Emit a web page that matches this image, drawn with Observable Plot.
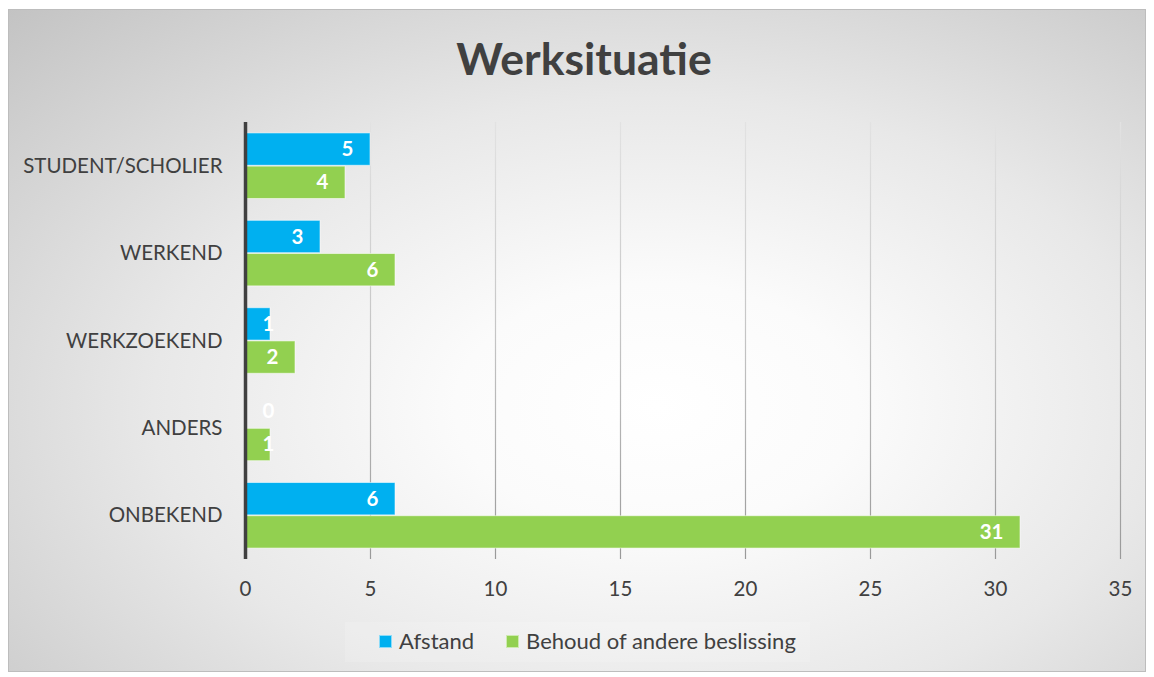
<!DOCTYPE html>
<html>
<head>
<meta charset="utf-8">
<script src="https://cdn.jsdelivr.net/npm/d3@7"></script>
<script src="https://cdn.jsdelivr.net/npm/@observablehq/plot@0.6"></script>
<style>
  html, body { margin: 0; padding: 0; background: #ffffff; }
  body { position: relative; width: 1154px; height: 677px; overflow: hidden; font-family: Lato, "Open Sans", sans-serif; color: #404040; }
  #frame {
    position: absolute; left: 8px; top: 9px; width: 1138px; height: 663px; box-sizing: border-box;
    border: 1px solid #bdbdbd;
    background: radial-gradient(ellipse farthest-corner at 57% 60%, #ffffff 0%, #fbfbfb 22%, #e8e8e8 55%, #c3c3c3 100%);
  }
  #title {
    position: absolute; left: 0; top: 36px; width: 1168px; text-align: center;
    font-size: 44.5px; line-height: 44px; font-weight: bold; color: #404040;
  }
  #chart { position: absolute; left: 0; top: 100px; }
  #legendbox { position: absolute; left: 345px; top: 622px; width: 465px; height: 40px; background: rgba(255,255,255,0.14); }
  #legend { position: absolute; left: 379px; top: 630px; display: flex; align-items: center; font-size: 22px; line-height: 22px; color: #404040; white-space: nowrap; }
  .item { display: flex; align-items: center; }
  .sw { width: 13px; height: 13px; box-sizing: border-box; border: 1px solid rgba(255,255,255,0.55); margin-right: 7px; }
</style>
</head>
<body>
<div id="frame"></div>
<div id="title">Werksituatie</div>
<div id="chart"></div>
<div id="legendbox"></div>
<div id="legend"></div>
<script>
const categories = ["STUDENT/SCHOLIER", "WERKEND", "WERKZOEKEND", "ANDERS", "ONBEKEND"];
const seriesNames = ["Afstand", "Behoud of andere beslissing"];
const afstand = [5, 3, 1, 0, 6];
const behoud = [4, 6, 2, 1, 31];
const xTicks = [0, 5, 10, 15, 20, 25, 30, 35];
const seriesColors = ["#00B0F0", "#92D050"];

const data = categories.flatMap((c, i) => [
  {category: c, series: seriesNames[0], value: afstand[i]},
  {category: c, series: seriesNames[1], value: behoud[i]}
]);
const first = data.filter(d => d.series === seriesNames[0]);
const second = data.filter(d => d.series === seriesNames[1]);

const gridDefs = (index, scales, values, dims) => {
  const ns = "http://www.w3.org/2000/svg";
  const defs = document.createElementNS(ns, "defs");
  const g = document.createElementNS(ns, "linearGradient");
  g.setAttribute("id", "gridGrad");
  g.setAttribute("gradientUnits", "userSpaceOnUse");
  g.setAttribute("x1", 0); g.setAttribute("x2", 0);
  g.setAttribute("y1", dims.marginTop);
  g.setAttribute("y2", dims.height - dims.marginBottom);
  [["0%", "#e2e2e2"], ["50%", "#c4c4c4"], ["100%", "#999999"]].forEach(([o, c]) => {
    const s = document.createElementNS(ns, "stop");
    s.setAttribute("offset", o); s.setAttribute("stop-color", c);
    g.appendChild(s);
  });
  defs.appendChild(g);
  return defs;
};

const labelText = {fill: "white", fontWeight: "bold", fontSize: 20.5, text: d => String(d.value)};
const inset = 33.2;

const chart = Plot.plot({
  width: 1154,
  height: 510,
  marginLeft: 245,
  marginRight: 34,
  marginTop: 22,
  marginBottom: 51,
  style: {background: "transparent", fontFamily: "Lato, 'Open Sans', sans-serif", fontSize: "20.5px", color: "#404040", overflow: "visible"},
  x: {domain: [0, 35], ticks: xTicks, tickSize: 0, tickPadding: 22, label: null, line: false},
  y: {domain: categories, paddingInner: 0.25, paddingOuter: 0.125, round: false, tickSize: 0, tickPadding: 23, label: null},
  color: {domain: seriesNames, range: seriesColors},
  marks: [
    gridDefs,
    Plot.ruleX(xTicks.filter(v => v > 0), {stroke: "url(#gridGrad)", strokeWidth: 1.2}),
    Plot.barX(first, {x: "value", y: "category", fill: "series", insetBottom: inset, stroke: "white", strokeOpacity: 0.55, strokeWidth: 1}),
    Plot.barX(second, {x: "value", y: "category", fill: "series", insetTop: inset, stroke: "white", strokeOpacity: 0.55, strokeWidth: 1}),
    Plot.ruleX([0], {stroke: "#404040", strokeWidth: 3.5}),
    Plot.text(first.filter(d => d.value >= 2), {...labelText, x: "value", y: "category", textAnchor: "end", dx: -17, dy: -16.5}),
    Plot.text(first.filter(d => d.value < 2), {...labelText, x: 0, y: "category", textAnchor: "start", dx: 17, dy: -16.5}),
    Plot.text(second.filter(d => d.value >= 2), {...labelText, x: "value", y: "category", textAnchor: "end", dx: -17, dy: 16.5}),
    Plot.text(second.filter(d => d.value < 2), {...labelText, x: 0, y: "category", textAnchor: "start", dx: 17, dy: 16.5})
  ]
});
document.getElementById("chart").appendChild(chart);

const legend = document.getElementById("legend");
seriesNames.forEach((name, i) => {
  const item = document.createElement("div");
  item.className = "item";
  if (i > 0) item.style.marginLeft = "32px";
  const sw = document.createElement("div");
  sw.className = "sw";
  sw.style.background = seriesColors[i];
  const t = document.createElement("span");
  t.textContent = name;
  item.appendChild(sw); item.appendChild(t);
  legend.appendChild(item);
});
</script>
</body>
</html>
